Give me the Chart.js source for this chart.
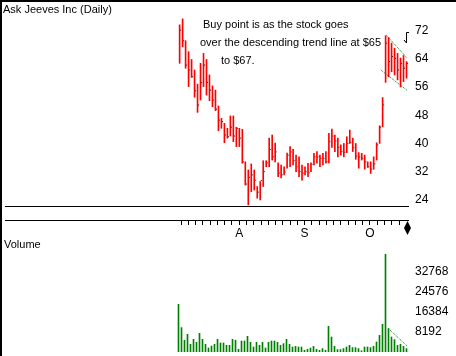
<!DOCTYPE html>
<html>
<head>
<meta charset="utf-8">
<script src="https://cdn.jsdelivr.net/npm/chart.js@4/dist/chart.umd.min.js"></script>
<style>
  body { margin: 0; background: #fff; }
  #wrap { position: relative; width: 456px; height: 356px; overflow: hidden; background: #fff;
          font-family: "Liberation Sans", Arial, sans-serif; }
  #wrap .frame { position: absolute; left: 0; top: 0; width: 456px; height: 356px; box-sizing: border-box;
          border-left: 2px solid #000; border-top: 2px solid #000; pointer-events: none; }
  canvas { position: absolute; left: 0; }
  #priceChart { top: 0; }
  #volChart { top: 240px; }
  .t { position: absolute; font-size: 11px; line-height: 13px; color: #000; white-space: nowrap; }
</style>
</head>
<body>
<div id="wrap">
  <canvas id="priceChart" width="456" height="240"></canvas>
  <canvas id="volChart" width="456" height="116"></canvas>
  <div class="t" style="left:3px;top:3px">Ask Jeeves Inc (Daily)</div>
  <div class="t" style="left:203px;top:18px">Buy point is as the stock goes</div>
  <div class="t" style="left:200px;top:36px">over the descending trend line at $65</div>
  <div class="t" style="left:221px;top:54px">to $67.</div>
  <div class="t" style="left:4px;top:238px">Volume</div>
  <div class="frame"></div>
</div>
<script>
// daily bars, one per trading day (index 0 = first bar)
const highs = [73.6,75.3,69.1,66.0,63.8,60.8,56.8,62.7,65.5,63.8,
  59.4,56.3,55.1,50.6,47.1,45.7,44.3,47.8,47.8,44.6,
  44.3,44.0,34.8,32.5,34.2,32.5,27.8,29.2,35.1,35.1,
  41.5,42.4,40.1,34.5,33.9,33.4,37.3,39.1,38.3,36.7,
  36.2,33.9,33.4,34.4,34.5,37.2,37.7,36.7,37.2,37.7,
  42.9,44.1,42.4,41.5,39.6,40.0,41.9,43.8,41.5,40.0,
  37.4,37.2,36.7,34.8,34.8,36.2,40.2,45.0,53.0,70.5,
  70.0,68.4,67.0,65.5,64.2,64.9,63.2];
const lows = [62.7,67.4,61.3,56.1,58.7,53.1,48.8,52.3,56.1,53.7,
  52.1,50.4,49.3,43.6,44.3,40.2,41.5,42.1,40.5,39.1,
  39.1,34.4,28.2,22.6,26.3,26.8,24.5,24.0,27.8,33.4,
  33.4,35.3,34.8,30.6,30.2,31.1,33.0,33.4,33.9,32.0,
  30.6,29.6,31.1,30.6,32.0,33.9,34.4,33.4,33.9,34.4,
  34.5,38.9,37.7,36.2,36.7,36.2,37.4,40.0,37.7,35.5,
  33.0,35.3,32.7,33.2,31.5,32.7,35.3,40.0,44.7,57.3,
  58.9,60.3,59.4,58.0,56.0,57.5,58.5];
const closes = [72.1,69.1,62.2,60.8,58.9,54.9,50.9,57.2,62.2,57.3,
  55.1,52.3,49.7,46.6,46.2,42.4,41.9,44.6,42.1,44.3,
  41.5,34.8,28.5,30.4,31.1,29.6,26.2,29.5,32.0,34.5,
  38.3,36.2,37.6,31.6,31.1,31.9,36.7,37.6,35.1,33.4,
  32.0,31.6,32.0,31.7,34.1,36.2,36.2,35.8,35.8,34.8,
  40.5,42.1,40.7,38.9,37.7,37.5,40.0,40.3,38.8,36.4,
  36.2,35.8,34.8,33.4,32.7,34.2,39.6,44.6,50.9,68.4,
  63.2,64.6,64.1,60.8,62.7,61.3,62.7];
const volumes = [19540,10000,4800,7250,3150,5200,3970,7660,5200,3150,
  1640,2460,3150,5200,3690,3690,2740,2740,5200,4800,
  1100,4500,4500,6430,3970,2050,3970,2740,3970,1640,
  3970,4500,4500,3970,2740,3440,5200,3150,2050,2300,
  2050,2050,700,1100,1640,2300,1100,700,1390,700,
  10500,6140,2330,980,980,1390,2050,2740,1800,1800,
  1390,500,2050,2050,1800,2330,4100,6830,11340,40000,
  9580,6140,5080,2740,3150,2330,1390];

const priceTicks = [24, 32, 40, 48, 56, 64, 72];
const volumeTicks = [8192, 16384, 24576, 32768];
const monthLabels = ['A', 'S', 'O'];
const monthTickNo = [8, 17, 26];      // which axis tick carries the month letter
const dateTickCount = 31;
const dateTickStart = 0.5, dateTickStep = 2.433;

// trend lines (bar index, value)
const upperTrendX = [69.2, 76.1], upperTrendY = [70.7, 64.3];
const lowerTrendX = [67.4, 76.1], lowerTrendY = [60.8, 55.1];
const volTrendX = [70.0, 76.3], volTrendY = [9580, 2330];
const arrowAt = [75.7, 71.6];
const lastMarkX = 76.0;

const xMin = -58.5, xMax = 76.5;
const RED = '#ff0000', GREEN = '#008000';

Chart.defaults.font.family = '"Liberation Sans", Arial, sans-serif';
Chart.defaults.font.size = 11;
Chart.defaults.color = '#000';

const xs = highs.map((_, i) => i);

// small glyph + end-diamond drawn against the scales
const marks = {
  id: 'marks',
  afterDatasetsDraw(chart) {
    const { ctx, scales } = chart;
    const ax = Math.round(scales.x.getPixelForValue(arrowAt[0]));
    const ay = Math.round(scales.y.getPixelForValue(arrowAt[1]));
    ctx.save();
    ctx.strokeStyle = '#000';
    ctx.lineWidth = 1;
    ctx.beginPath();
    ctx.moveTo(ax + 3, ay + 0.5); ctx.lineTo(ax + 0.5, ay + 0.5); ctx.lineTo(ax + 0.5, ay + 11);
    ctx.moveTo(ax - 2, ay + 8); ctx.lineTo(ax + 0.5, ay + 11);
    ctx.stroke();
    const dx = Math.round(scales.x2.getPixelForValue(lastMarkX)) + 0.5;
    const dy = scales.x2.top + 8;
    ctx.fillStyle = '#000';
    ctx.beginPath();
    ctx.moveTo(dx, dy - 7); ctx.lineTo(dx + 3.5, dy); ctx.lineTo(dx, dy + 7); ctx.lineTo(dx - 3.5, dy);
    ctx.closePath(); ctx.fill();
    ctx.restore();
  }
};

function trend(xv, yv, axis) {
  return {
    type: 'line', data: xv.map((x, i) => ({ x, y: yv[i] })), yAxisID: axis,
    borderColor: GREEN, borderWidth: 1, borderDash: [1, 1], pointRadius: 0, fill: false
  };
}

// right-hand value axis with no extra label padding
function rightAxis(min, max, values) {
  return {
    position: 'right', min, max,
    afterBuildTicks(s) { s.ticks = values.map(v => ({ value: v })); },
    ticks: { padding: 7, font: { size: 12 }, callback: v => String(v) },
    grid: { display: false, drawTicks: false }, border: { display: false },
    afterFit(s) { s.width = 48; s.paddingTop = 0; s.paddingBottom = 0; }
  };
}

new Chart(document.getElementById('priceChart'), {
  type: 'bar',
  data: {
    datasets: [
      { type: 'bar', data: xs.map(i => ({ x: i, y: [lows[i], highs[i]] })),
        backgroundColor: RED, barThickness: 1, grouped: false },
      // close tick on the right side of each bar
      { type: 'line', data: xs.map(i => ({ x: i + 1 / 3, y: closes[i] })), showLine: false,
        pointStyle: 'line', pointRadius: 0.5, borderColor: '#000', borderWidth: 1 },
      trend(upperTrendX, upperTrendY, 'y'),
      trend(lowerTrendX, lowerTrendY, 'y')
    ]
  },
  options: {
    animation: false, responsive: false, devicePixelRatio: 1,
    layout: { padding: { left: 3, top: 5, right: 0, bottom: 0 } },
    plugins: { legend: { display: false }, tooltip: { enabled: false } },
    scales: {
      x: { type: 'linear', min: xMin, max: xMax, offset: false,
        ticks: { display: false }, grid: { display: false, offset: false },
        border: { display: true, color: '#000', width: 1 },
        afterFit(s) { s.height = 14; s.paddingLeft = 0; s.paddingRight = 0; } },
      x2: { type: 'linear', position: 'bottom', min: xMin, max: xMax, offset: false,
        afterBuildTicks(s) {
          s.ticks = Array.from({ length: dateTickCount }, (_, k) => ({ value: dateTickStart + dateTickStep * k }));
        },
        ticks: { autoSkip: false, maxRotation: 0, padding: 1, font: { size: 12 },
          callback(v, i) { const m = monthTickNo.indexOf(i); return m >= 0 ? monthLabels[m] : ''; } },
        grid: { display: true, drawOnChartArea: false, tickLength: 5, color: '#000', offset: false },
        border: { display: true, color: '#000', width: 1 },
        afterFit(s) { s.height = 20; s.paddingLeft = 0; s.paddingRight = 0; } },
      y: rightAxis(22.28, 79.22, priceTicks)
    }
  },
  plugins: [marks]
});

new Chart(document.getElementById('volChart'), {
  type: 'bar',
  data: {
    datasets: [
      { type: 'bar', data: xs.map(i => ({ x: i, y: volumes[i] })),
        backgroundColor: GREEN, barThickness: 1, grouped: false },
      trend(volTrendX, volTrendY, 'y')
    ]
  },
  options: {
    animation: false, responsive: false, devicePixelRatio: 1,
    layout: { padding: { left: 3, top: 2, right: 0, bottom: 4 } },
    plugins: { legend: { display: false }, tooltip: { enabled: false } },
    scales: {
      x: { type: 'linear', min: xMin, max: xMax, offset: false, display: false },
      y: rightAxis(0, 45056, volumeTicks)
    }
  }
});
</script>
</body>
</html>
